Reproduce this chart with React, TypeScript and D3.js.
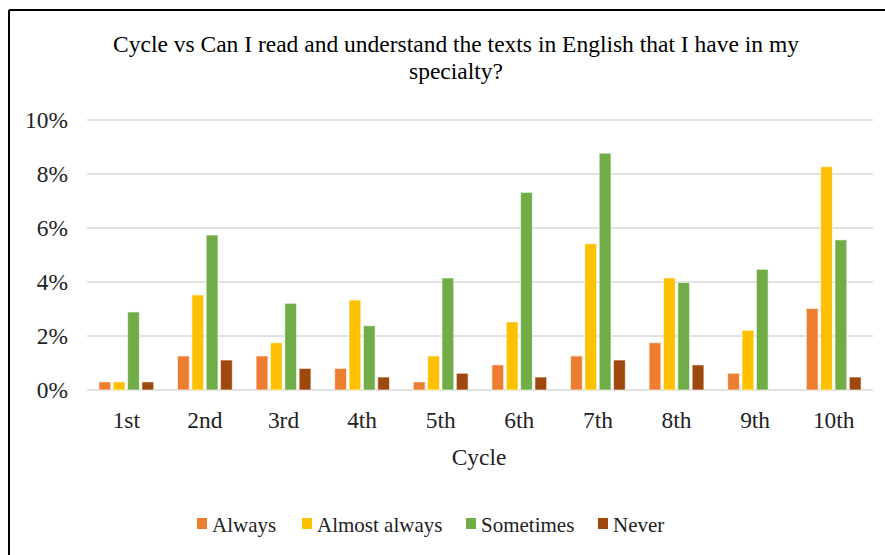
import React from "react";
import * as d3 from "d3";

const categories = ["1st", "2nd", "3rd", "4th", "5th", "6th", "7th", "8th", "9th", "10th"];
const seriesNames = ["Always", "Almost always", "Sometimes", "Never"];
const always = [0.3, 1.26, 1.26, 0.8, 0.3, 0.93, 1.26, 1.75, 0.62, 3.02];
const almostAlways = [0.3, 3.52, 1.75, 3.33, 1.26, 2.52, 5.42, 4.15, 2.21, 8.27];
const sometimes = [2.89, 5.74, 3.21, 2.38, 4.15, 7.32, 8.77, 3.98, 4.47, 5.56];
const never = [0.3, 1.11, 0.8, 0.48, 0.62, 0.48, 1.11, 0.93, 0, 0.48];
const yTicks = [0, 2, 4, 6, 8, 10];
const colors = ["#ED7D31", "#FFC000", "#70AD47", "#9E480E"];
const titleLines = [
  "Cycle vs Can I read and understand the texts in English that I have in my",
  "specialty?",
];

const W = 885;
const H = 555;
const FONT = "'Liberation Serif', 'Times New Roman', serif";

export default function App() {
  const seriesValues = [always, almostAlways, sometimes, never];
  const x0 = d3
    .scaleBand<string>()
    .domain(categories)
    .range([87, 873])
    .paddingInner(0.27)
    .paddingOuter(0.135);
  const x1 = d3
    .scaleBand<string>()
    .domain(seriesNames)
    .range([0, x0.bandwidth()])
    .paddingInner(0.18)
    .paddingOuter(0.09);
  const y = d3.scaleLinear().domain([0, 10]).range([390, 120]);

  const legendX = [197, 302, 466, 598];

  return (
    <svg
      width={W}
      height={H}
      style={{ position: "absolute", left: 0, top: 0, background: "#fff" }}
      fontFamily={FONT}
    >
      <rect x={0} y={0} width={W} height={H} fill="#fff" />
      {/* frame */}
      <line x1={9} y1={10} x2={W} y2={10} stroke="#000" strokeWidth={2} />
      <line x1={9} y1={10} x2={9} y2={H} stroke="#000" strokeWidth={2} />

      {titleLines.map((t, i) => (
        <text
          key={i}
          x={456}
          y={52 + i * 27}
          textAnchor="middle"
          fontSize={23.5}
          fill="#000"
        >
          {t}
        </text>
      ))}

      {yTicks.map((t) => (
        <g key={t}>
          <line
            x1={87}
            x2={873}
            y1={y(t)}
            y2={y(t)}
            stroke="#D9D9D9"
            strokeWidth={1.5}
          />
          <text
            x={68}
            y={y(t)}
            dy="0.35em"
            textAnchor="end"
            fontSize={23.4}
            fill="#222"
          >
            {t}%
          </text>
        </g>
      ))}

      {categories.map((c, ci) => (
        <g key={c} transform={`translate(${x0(c)},0)`}>
          {seriesNames.map((s, si) => {
            const v = seriesValues[si][ci];
            if (v <= 0) return null;
            return (
              <rect
                key={s}
                x={x1(s)}
                y={y(v)}
                width={x1.bandwidth()}
                height={y(0) - y(v)}
                fill={colors[si]}
                stroke="#fff"
                strokeOpacity={0.6}
                strokeWidth={1}
              />
            );
          })}
        </g>
      ))}

      {categories.map((c) => (
        <text
          key={c}
          x={(x0(c) as number) + x0.bandwidth() / 2}
          y={428}
          textAnchor="middle"
          fontSize={23.4}
          fill="#222"
        >
          {c}
        </text>
      ))}

      <text x={479} y={465} textAnchor="middle" fontSize={23.4} fill="#222">
        Cycle
      </text>

      {seriesNames.map((s, i) => (
        <g key={s}>
          <rect x={legendX[i]} y={518} width={10} height={11} fill={colors[i]} />
          <text x={legendX[i] + 15} y={532} fontSize={21} fill="#222">
            {s}
          </text>
        </g>
      ))}
    </svg>
  );
}
